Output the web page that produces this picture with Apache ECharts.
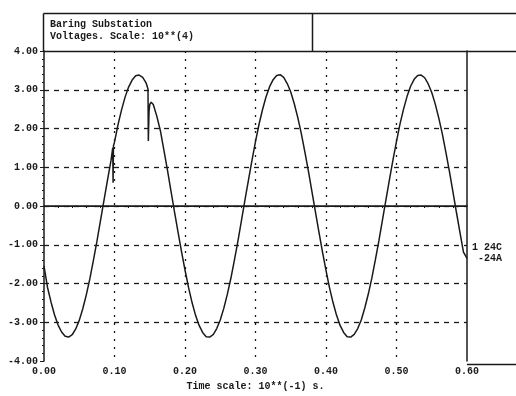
<!DOCTYPE html>
<html>
<head>
<meta charset="utf-8">
<script src="https://cdn.jsdelivr.net/npm/echarts@6/dist/echarts.min.js"></script>
<style>
  html, body { margin: 0; padding: 0; background: #fff; }
  #main { width: 516px; height: 396px; }
</style>
</head>
<body>
<div id="main"></div>
<script>
// title and labels
var titleLines = ['Baring Substation', 'Voltages. Scale: 10**(4)']
var xName = 'Time scale: 10**(-1) s.'
var traceLabels = ['1 24C', '-24A']

// voltage read every 0.005 (x 10^-1 s), from 0.00 to 0.60
var step = 0.005
var volts = [
  -1.55, -2.10, -2.48, -2.81, -3.07, -3.25, -3.36, -3.38, -3.32, -3.17,
  -2.95, -2.65, -2.29, -1.88, -1.41, -0.92, -0.39, 0.14, 0.66, 1.17,
  1.65, 2.10, 2.48, 2.81, 3.07, 3.25, 3.36, 3.38, 3.32, 3.17,
  2.62, 2.62, 2.32, 1.95, 1.45, 0.94, 0.40, -0.14, -0.66, -1.17,
  -1.65, -2.10, -2.49, -2.82, -3.08, -3.26, -3.37, -3.38, -3.32, -3.16,
  -2.94, -2.64, -2.28, -1.87, -1.40, -0.91, -0.38, 0.15, 0.67, 1.18,
  1.66, 2.11, 2.49, 2.82, 3.08, 3.26, 3.37, 3.39, 3.32, 3.16,
  2.94, 2.64, 2.28, 1.87, 1.40, 0.91, 0.38, -0.15, -0.67, -1.18,
  -1.66, -2.11, -2.49, -2.82, -3.08, -3.26, -3.37, -3.38, -3.31, -3.16,
  -2.94, -2.63, -2.27, -1.86, -1.39, -0.90, -0.37, 0.16, 0.68, 1.19,
  1.67, 2.12, 2.50, 2.83, 3.09, 3.27, 3.37, 3.38, 3.31, 3.15,
  2.93, 2.63, 2.27, 1.86, 1.39, 0.90, 0.37, -0.16, -0.68, -1.19,
  -1.35
]
// transient points between samples [t, v]
var transients = [
  [0.0975, 1.50], [0.098, 0.60], [0.0985, 1.55],
  [0.1475, 3.02], [0.148, 1.68], [0.149, 2.45], [0.152, 2.68]
]

var points = volts.map(function (v, i) { return [+(i * step).toFixed(4), v] })
points = points.concat(transients).sort(function (a, b) { return a[0] - b[0] })

var font = '"Liberation Mono", "DejaVu Sans Mono", monospace'
var ink = '#1a1a1a'

var myChart = echarts.init(document.getElementById('main'))

myChart.setOption({
  animation: false,
  backgroundColor: '#fff',
  grid: { left: 44, right: 49, top: 51, bottom: 32 },
  xAxis: {
    type: 'value',
    min: 0,
    max: 0.6,
    interval: 0.1,
    name: xName,
    nameLocation: 'middle',
    nameGap: 17,
    nameTextStyle: { fontFamily: font, fontWeight: 'bold', fontSize: 10, color: ink },
    axisLine: { show: true, lineStyle: { color: ink, width: 1.5 } },
    axisTick: { show: false },
    minorTick: { show: true, splitNumber: 5, length: 2, lineStyle: { color: ink } },
    axisLabel: {
      margin: 5,
      fontFamily: font, fontWeight: 'bold', fontSize: 10, color: ink,
      formatter: function (v) { return v.toFixed(2) }
    },
    splitLine: {
      show: true, showMinLine: false, showMaxLine: false,
      lineStyle: { color: ink, width: 1.3, type: [2, 6] }
    }
  },
  yAxis: [{
    type: 'value',
    min: -4,
    max: 4,
    interval: 1,
    axisLine: { show: true, lineStyle: { color: ink, width: 1.5 } },
    axisTick: { show: true, length: 4, lineStyle: { color: ink } },
    minorTick: { show: true, splitNumber: 5, length: 2, lineStyle: { color: ink } },
    axisLabel: {
      margin: 6,
      fontFamily: font, fontWeight: 'bold', fontSize: 10, color: ink,
      formatter: function (v) { return v.toFixed(2) }
    },
    splitLine: {
      show: true, showMinLine: false, showMaxLine: false,
      lineStyle: { color: ink, width: 1.3, type: [5, 5] }
    }
  }, {
    type: 'value',
    position: 'right',
    min: -4,
    max: 4,
    axisLine: { show: true, lineStyle: { color: ink, width: 1.5 } },
    axisTick: { show: false },
    axisLabel: { show: false },
    splitLine: { show: false }
  }],
  graphic: [
    // title box
    { type: 'line', shape: { x1: 43.5, y1: 13.5, x2: 516, y2: 13.5 }, style: { stroke: ink, lineWidth: 1.5 } },
    { type: 'line', shape: { x1: 43.5, y1: 13.5, x2: 43.5, y2: 51 }, style: { stroke: ink, lineWidth: 1.5 } },
    { type: 'line', shape: { x1: 312.5, y1: 13.5, x2: 312.5, y2: 51 }, style: { stroke: ink, lineWidth: 1.5 } },
    { type: 'line', shape: { x1: 43.5, y1: 51.5, x2: 516, y2: 51.5 }, style: { stroke: ink, lineWidth: 1.5 } },
    { type: 'line', shape: { x1: 467, y1: 364.5, x2: 516, y2: 364.5 }, style: { stroke: ink, lineWidth: 1.5 } },
    {
      type: 'text', left: 50, top: 18,
      style: { text: titleLines.join('\n'), font: 'bold 10px ' + font, fill: ink, lineHeight: 12 }
    },
    {
      type: 'text', right: 14, top: 242,
      style: { text: traceLabels[0], font: 'bold 10px ' + font, fill: ink }
    },
    {
      type: 'text', right: 14, top: 253,
      style: { text: traceLabels[1], font: 'bold 10px ' + font, fill: ink }
    }
  ],
  series: [{
    type: 'line',
    data: points,
    showSymbol: false,
    clip: true,
    lineStyle: { color: ink, width: 1.5 },
    markLine: {
      silent: true,
      symbol: 'none',
      label: { show: false },
      lineStyle: { color: ink, width: 1.2, type: 'solid' },
      data: [{ yAxis: 0 }]
    }
  }]
})

window.onresize = function () {
  myChart.resize()
}
</script>
</body>
</html>
